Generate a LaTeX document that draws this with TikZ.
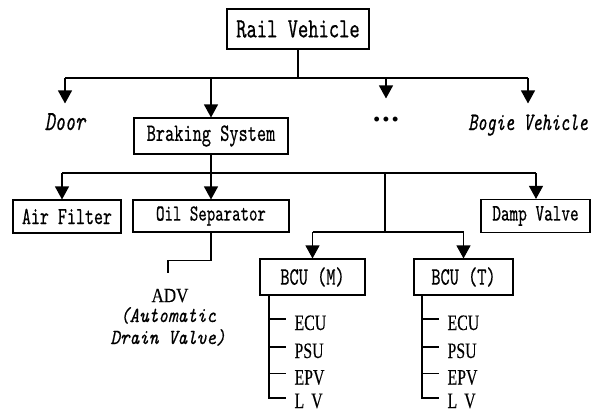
\documentclass[tikz,border=0pt]{standalone}
\usepackage{fontspec}
\usetikzlibrary{arrows.meta}
% narrow typewriter serif for boxes and labels, condensed serif for unit names
\newfontfamily\monof{lmmono10-regular}[Extension=.otf,
  ItalicFont=lmmono10-italic, FakeStretch=0.7, FakeBold=0.5]
\newfontfamily\noteif{lmmono10-italic}[Extension=.otf,
  FakeStretch=0.85, FakeBold=0.5]
\newfontfamily\condf[FakeStretch=0.72, FakeBold=0.3]{Liberation Serif}
\newfontfamily\advf[FakeStretch=0.85, FakeBold=0.3]{Liberation Serif}
\newfontfamily\dotf{Liberation Sans}
\newcommand{\fsz}[1]{\fontsize{#1}{#1}\selectfont}

\begin{document}
\begin{tikzpicture}[x=1pt, y=-1pt, line width=1.1pt,
  box/.style={draw, inner sep=0pt, line width=1.1pt},
  arr/.style={-{Triangle[width=14pt, length=13pt]}},
  lbl/.style={inner sep=0pt, anchor=base, text height=13pt, text depth=0pt},
  leaf/.style={anchor=west, inner sep=0pt, text height=14pt, text depth=0pt,
               font=\condf\fsz{22}},
  twig/.style={shorten >=8pt}]
\useasboundingbox (0,0) rectangle (597,412);

% top level
\node[box, minimum width=142pt, minimum height=40pt, font=\monof\fsz{28}]
  (rail) at (298,29) {Rail Vehicle};
\coordinate (bar1) at (298,78);

\node[lbl, font=\monof\itshape\fsz{27.5}] (door) at (65,130) {Door};
\node[box, minimum width=154pt, minimum height=36pt, font=\monof\fsz{25}]
  (brake) at (211,136) {Braking System};
\node[lbl, font=\dotf\fsz{18}] (dots) at (386,125)
  {\textbullet\hspace{3pt}\textbullet\hspace{3pt}\textbullet};
\node[lbl, font=\monof\itshape\fsz{25}] (bogie) at (528,130) {Bogie Vehicle};

\draw (rail.south) -- (bar1);
\draw (bar1 -| door) -- (bar1 -| bogie);
\draw[arr, shorten >=13pt] (bar1 -| door) -- (door.north);
\draw[arr] (bar1 -| brake) -- (brake.north);
\draw[arr, shorten >=13pt] (bar1 -| dots) -- (dots.north);
\draw[arr, shorten >=13pt] (bar1 -| bogie) -- (bogie.north);

% braking system parts
\coordinate (bar2) at (211,173);
\coordinate (b2L) at (62,173);
\coordinate (b2R) at (536,173);
\coordinate (b2M) at (385,173);
\node[box, minimum width=108pt, minimum height=33pt, font=\monof\fsz{24.5}]
  (air) at (67,216.5) {Air Filter};
\node[box, minimum width=156pt, minimum height=32pt, font=\monof\fsz{23}]
  (oil) at (211,216) {Oil Separator};
\node[box, minimum width=109pt, minimum height=33pt, font=\monof\fsz{23.5}]
  (damp) at (535.5,216) {Damp Valve};

\draw (brake.south) -- (bar2);
\draw (b2L) -- (b2R);
\draw[arr] (b2L) -- (b2L |- air.north);
\draw[arr] (bar2) -- (oil.north);
\draw[arr] (b2R) -- (b2R |- damp.north);

% brake control units
\coordinate (bar3) at (385,232);
\node[box, minimum width=105pt, minimum height=36pt, font=\monof\fsz{25}]
  (bcum) at (312.5,277) {BCU (M)};
\node[box, minimum width=99pt, minimum height=36pt, font=\monof\fsz{25}]
  (bcut) at (463.5,277) {BCU (T)};
\draw (b2M) -- (bar3);
\draw (bar3 -| bcum) -- (bar3 -| bcut);
\draw[arr] (bar3 -| bcum) -- (bcum.north);
\draw[arr] (bar3 -| bcut) -- (bcut.north);

% automatic drain valve
\coordinate (advTop) at (168,273);
\node[lbl, font=\advf\fsz{20}] (adv) at (170,302) {ADV};
\node[lbl, font=\noteif\fsz{21.5}] (advB) at (168,322) {(Automatic};
\node[lbl, font=\noteif\fsz{21.5}] (advC) at (168,344) {Drain Valve)};
\draw (oil.south) -- ++(0,28) -| (advTop);

% units of BCU (M)
\coordinate (mspine) at ([xshift=9.5pt]bcum.south west);
\node[leaf] (m1) at (294,323) {ECU};
\node[leaf] (m2) at (294,351) {PSU};
\node[leaf] (m3) at (294,377.5) {EPV};
\node[leaf] (m4) at (294,401) {L\hspace{7pt}V};
\draw (mspine) |- ([xshift=-8pt, yshift=3pt]m4.west);
\foreach \u in {m1,m2,m3}
  \draw[twig] ([yshift=4pt]\u.west -| mspine) -- ([yshift=4pt]\u.west);

% units of BCU (T)
\coordinate (tspine) at ([xshift=8.5pt]bcut.south west);
\node[leaf] (t1) at (447,323) {ECU};
\node[leaf] (t2) at (447,351) {PSU};
\node[leaf] (t3) at (447,377.5) {EPV};
\node[leaf] (t4) at (447,401) {L\hspace{7pt}V};
\draw (tspine) |- ([xshift=-8pt, yshift=3pt]t4.west);
\foreach \u in {t1,t2,t3}
  \draw[twig] ([yshift=4pt]\u.west -| tspine) -- ([yshift=4pt]\u.west);
\end{tikzpicture}
\end{document}
